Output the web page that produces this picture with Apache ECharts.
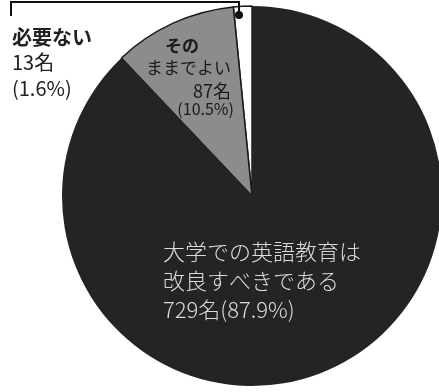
<!DOCTYPE html>
<html><head><meta charset="utf-8">
<script src="https://cdn.jsdelivr.net/npm/echarts@6/dist/echarts.min.js"></script>
<style>html,body{margin:0;padding:0;background:#fff}#c{width:439px;height:392px}</style>
</head><body><div id="c"></div>
<script>
const categories = ['必要ない', 'そのままでよい', '大学での英語教育は改良すべきである'];
const counts = [13, 87, 729];
const percents = ['1.6', '10.5', '87.9'];
const colors = ['#ffffff', '#8c8c8c', '#242424'];

const chart = echarts.init(document.getElementById('c'));
const F = '"Noto Sans CJK JP", sans-serif';
const t = (x, y, text, font, fill, align) => ({
  type: 'text', z: 100, x: x, y: y,
  style: { text: text, font: font, fill: fill, align: align || 'left', verticalAlign: 'middle' }
});
chart.setOption({
  animation: false,
  series: [{
    type: 'pie',
    center: [252, 196],
    radius: [0, 190],
    startAngle: 90,
    clockwise: false,
    z: 1,
    label: { show: false },
    labelLine: { show: false },
    emphasis: { disabled: true },
    data: categories.map((c, i) => ({
      name: c, value: counts[i],
      itemStyle: { color: colors[i], borderColor: '#1a1a1a', borderWidth: i === 2 ? 0 : 1.5 }
    }))
  }],
  graphic: { elements: [
    { type: 'polyline', z: 100, shape: { points: [[11, 16], [11, 2], [239, 2], [239, 15]] },
      style: { stroke: '#111', lineWidth: 2, fill: null } },
    { type: 'circle', z: 100, shape: { cx: 239, cy: 15, r: 4 }, style: { fill: '#111' } },
    t(12, 37, categories[0], 'bold 20px ' + F, '#222'),
    t(12, 62, counts[0] + '名', '20px ' + F, '#222'),
    t(12, 88, '(' + percents[0] + '%)', '20px ' + F, '#222'),
    t(182, 46, 'その', 'bold 17px ' + F, '#1a1a1a', 'center'),
    t(231, 68, 'ままでよい', '17px ' + F, '#1a1a1a', 'right'),
    t(231, 91, counts[1] + '名', '18px ' + F, '#1a1a1a', 'right'),
    t(234, 109, '(' + percents[1] + '%)', '16px ' + F, '#1a1a1a', 'right'),
    t(163, 252, '大学での英語教育は', '300 22px ' + F, '#dcdcdc'),
    t(163, 281, '改良すべきである', '300 22px ' + F, '#dcdcdc'),
    t(163, 310, counts[2] + '名(' + percents[2] + '%)', '300 22px ' + F, '#dcdcdc')
  ]}
});
</script></body></html>
